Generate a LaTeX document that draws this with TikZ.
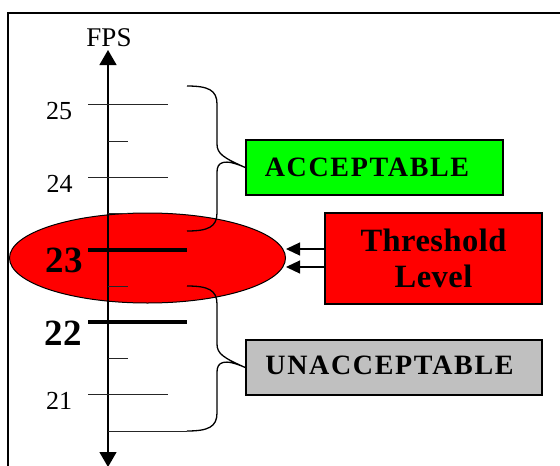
\documentclass[tikz,border=0pt]{standalone}
\usepackage{fontspec}
\setmainfont{Liberation Serif}
\newfontfamily\spaced[LetterSpace=1.5]{Liberation Serif}
\newfontfamily\boxspaced[LetterSpace=6]{Liberation Serif}
\usetikzlibrary{arrows.meta,shapes.geometric}
\definecolor{accgreen}{RGB}{0,255,0}
\definecolor{thrred}{RGB}{255,0,0}
\definecolor{unacgray}{RGB}{192,192,192}
\tikzset{
  tickline/.style={line width=1pt, black!85},
  thickline/.style={line width=4.5pt, black},
  numlabel/.style={inner sep=0pt, font=\fontsize{26}{30}\selectfont},
  boldnum/.style={inner sep=0pt, font=\fontsize{37}{40}\selectfont\bfseries},
  boxshape/.style={draw=black, line width=1.5pt, inner sep=0pt},
  boxtext/.style={inner sep=0pt, font=\fontsize{28}{32}\selectfont\bfseries\boxspaced},
  bracepath/.style={line width=1.3pt, black},
  ptr/.style={line width=1.2pt, -{Triangle[length=14pt,width=13pt]}},
}
\begin{document}
\begin{tikzpicture}[x=1pt,y=-1pt]
\useasboundingbox (0,0) rectangle (560,466);
% frame
\draw[line width=2pt] (8,466) -- (8,12.5) -- (560,12.5);
% ellipse
\node[ellipse, draw=black, line width=1pt, fill=thrred, minimum width=276pt, minimum height=90pt, inner sep=0pt] (ell) at (147.5,258) {};
% axis
\coordinate (axtop) at (108,50);
\coordinate (axbot) at (108,467);
\draw[line width=1.3pt, {Triangle[length=15pt,width=17pt]}-{Triangle[length=15pt,width=17pt]}] (axbot) -- (axtop);
\node[inner sep=0pt, font=\fontsize{27}{30}\selectfont] (fps) at (109,37.5) {FPS};
% ticks
\draw[tickline] (88,104) -- (168,104);
\draw[tickline] (108,141) -- (128,141);
\draw[tickline] (88,177) -- (168,177);
\draw[tickline] (108,213) -- (128,213);
\draw[thickline] (88,250) -- (187,250);
\draw[tickline] (108,286) -- (128,286);
\draw[thickline] (88,322) -- (187,322);
\draw[tickline] (108,358) -- (128,358);
\draw[tickline] (88,394.5) -- (168,394.5);
\draw[tickline] (108,431) -- (187,431);
% labels
\node[numlabel] (n25) at (59,111) {25};
\node[numlabel] (n24) at (59.5,183.5) {24};
\node[boldnum] (n23) at (64,260) {23};
\node[boldnum] (n22) at (63.5,333) {22};
\node[numlabel] (n21) at (59,401) {21};
% boxes
\node[boxshape, fill=accgreen, minimum width=257pt, minimum height=55pt] (acc) at (374.5,167.5) {};
\node[boxtext] (acct) at (367,167) {ACCEPTABLE};
\node[boxshape, fill=unacgray, minimum width=296pt, minimum height=55pt] (unac) at (394,367.5) {};
\node[boxtext] (unact) at (389.5,365.5) {UNACCEPTABLE};
\node[boxshape, fill=thrred, minimum width=217pt, minimum height=91pt, align=center,
      font=\fontsize{32.5}{36.7}\selectfont\bfseries\spaced] (thr) at (433.5,258.5) {Threshold\\Level};
% braces
\coordinate (ubtop) at (187,86);
\coordinate (ubbot) at (187,231);
\draw[bracepath] (ubtop) .. controls (208,86) and (217,90) .. (217,104) -- (217,144)
   .. controls (217,154) and (224,158) .. (acc.west)
   .. controls (224,158) and (217,162) .. (217,172) -- (217,213)
   .. controls (217,227) and (208,231) .. (ubbot);
\coordinate (lbtop) at (187,286);
\coordinate (lbbot) at (187,431);
\draw[bracepath] (lbtop) .. controls (208,286) and (217,290) .. (217,304) -- (217,344)
   .. controls (217,354) and (224,358) .. (unac.west)
   .. controls (224,358) and (217,362) .. (217,372) -- (217,413)
   .. controls (217,427) and (208,431) .. (lbbot);
% threshold pointers
\draw[ptr] (thr.west |- 0,249) -- (ell.east |- 0,249);
\draw[ptr] (thr.west |- 0,267) -- (ell.east |- 0,267);
\end{tikzpicture}
\end{document}
